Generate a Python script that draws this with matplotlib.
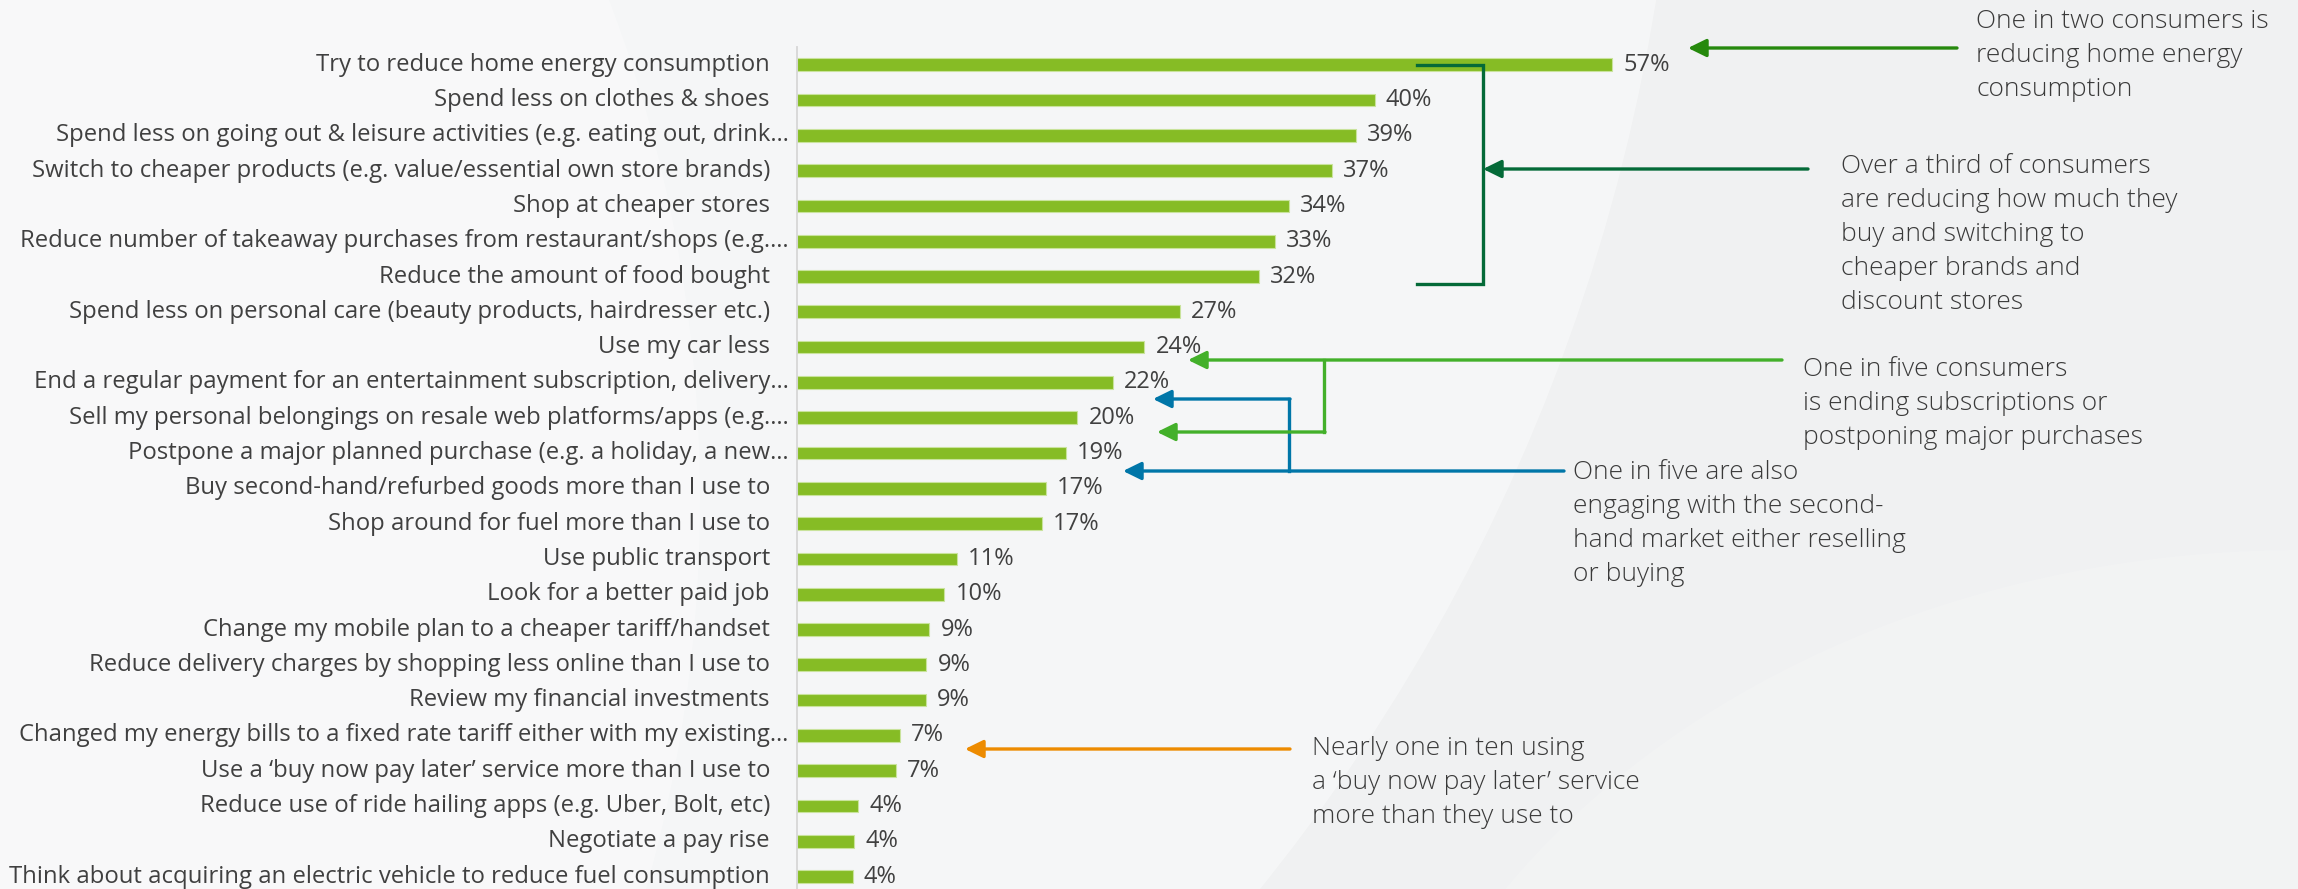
import matplotlib
matplotlib.use("Agg")
import matplotlib.pyplot as plt
from matplotlib.patches import Ellipse

# --- data ---
actions = [
    "Try to reduce home energy consumption",
    "Spend less on clothes & shoes",
    "Spend less on going out & leisure activities (e.g. eating out, drink…",
    "Switch to cheaper products (e.g. value/essential own store brands)",
    "Shop at cheaper stores",
    "Reduce number of takeaway purchases from restaurant/shops (e.g.…",
    "Reduce the amount of food bought",
    "Spend less on personal care (beauty products, hairdresser etc.)",
    "Use my car less",
    "End a regular payment for an entertainment subscription, delivery…",
    "Sell my personal belongings on resale web platforms/apps (e.g.…",
    "Postpone a major planned purchase (e.g. a holiday, a new…",
    "Buy second-hand/refurbed goods more than I use to",
    "Shop around for fuel more than I use to",
    "Use public transport",
    "Look for a better paid job",
    "Change my mobile plan to a cheaper tariff/handset",
    "Reduce delivery charges by shopping less online than I use to",
    "Review my financial investments",
    "Changed my energy bills to a fixed rate tariff either with my existing…",
    "Use a ‘buy now pay later’ service more than I use to",
    "Reduce use of ride hailing apps (e.g. Uber, Bolt, etc)",
    "Negotiate a pay rise",
    "Think about acquiring an electric vehicle to reduce fuel consumption",
]
shares = [57.0, 40.4, 39.1, 37.4, 34.4, 33.4, 32.3, 26.8, 24.3, 22.1, 19.6, 18.8,
          17.4, 17.1, 11.2, 10.3, 9.25, 9.05, 9.0, 7.2, 6.9, 4.3, 4.0, 3.9]

notes = [
    "One in two consumers is\nreducing home energy\nconsumption",
    "Over a third of consumers\nare reducing how much they\nbuy and switching to\ncheaper brands and\ndiscount stores",
    "One in five consumers\nis ending subscriptions or\npostponing major purchases",
    "One in five are also\nengaging with the second-\nhand market either reselling\nor buying",
    "Nearly one in ten using\na ‘buy now pay later’ service\nmore than they use to",
]

BAR = "#86BC25"
TXT = "#404040"
W, H = 2298, 889

plt.rcParams["font.family"] = ["Open Sans", "DejaVu Sans"]

fig = plt.figure(figsize=(W / 100, H / 100), dpi=100)
fig.patch.set_facecolor("#f0f1f2")

# background swooshes
bg = fig.add_axes([0, 0, 1, 1], zorder=0)
bg.set_xlim(0, W)
bg.set_ylim(H, 0)
bg.axis("off")
bg.add_patch(Ellipse((-213, -300), 3786, 3786, color="white", alpha=0.4, lw=0))
bg.add_patch(Ellipse((-300, 500), 2000, 2400, color="white", alpha=0.3, lw=0))
bg.add_patch(Ellipse((2300, 1300), 1900, 1500, color="white", alpha=0.15, lw=0))

# main bar axes, 14.3 px per percentage point
ax = fig.add_axes([797 / W, 0, 1 - 797 / W, 1], zorder=2)
ax.set_facecolor("none")
ax.set_xlim(0, (W - 797) / 14.3)
ax.set_ylim(23.35, -1.833)

ypos = list(range(len(actions)))
ax.barh(ypos, shares, height=0.36, color=BAR, edgecolor="#c9e39c", linewidth=0.8)

for y, v in zip(ypos, shares):
    ax.annotate(f"{v:.0f}%", xy=(v, y), xytext=(8, 0), textcoords="offset points",
                va="center", ha="left", fontsize=17, color=TXT)

for y, lab in zip(ypos, actions):
    pad = -6 if lab.endswith("…") else -19.5
    ax.annotate(lab, xy=(0, y), xycoords=("axes fraction", "data"), xytext=(pad, 0),
                textcoords="offset points", va="center", ha="right",
                fontsize=17.2, color=TXT, annotation_clip=False)

ax.set_xticks([])
ax.set_yticks([])
for s in ["top", "right", "bottom"]:
    ax.spines[s].set_visible(False)
ax.spines["left"].set_color("#d6d6d6")
ax.spines["left"].set_linewidth(1.3)
ax.spines["left"].set_bounds(-0.5, 23.35)

# callouts drawn in pixel space
ov = fig.add_axes([0, 0, 1, 1], zorder=3)
ov.set_xlim(0, W)
ov.set_ylim(H, 0)
ov.axis("off")


def arrow(x0, x1, y, color):
    ov.annotate("", xy=(x1, y), xytext=(x0, y),
                arrowprops=dict(arrowstyle="-|>,head_length=0.55,head_width=0.27",
                                color=color, lw=2.4, shrinkA=0, shrinkB=0,
                                mutation_scale=20))


def note(x, y, s):
    # y = centre of the first line
    ov.text(x, y - 11, s, ha="left", va="top", fontsize=19, color="#3a3a3a",
            linespacing=1.48, fontweight="light")


# 1 - home energy
arrow(1957, 1688, 48, "#26890D")
note(1976, 20, notes[0])

# 2 - bracket
dg = "#046A38"
ov.plot([1417, 1483, 1483, 1417], [64.5, 64.5, 284, 284], color=dg, lw=2.4,
        solid_joinstyle="miter")
arrow(1808, 1483, 169, dg)
note(1841, 165, notes[1])

# 3 - subscriptions / postponing
lg = "#43B02A"
arrow(1782, 1188, 360, lg)
ov.plot([1324, 1324], [360, 432], color=lg, lw=2.4)
arrow(1325, 1157, 432, lg)
note(1803, 368, notes[2])

# 4 - second-hand market
bl = "#0076A8"
arrow(1564, 1123, 471, bl)
ov.plot([1289, 1289], [399, 471], color=bl, lw=2.4)
arrow(1290, 1153, 399, bl)
note(1573, 471, notes[3])

# 5 - buy now pay later
arrow(1290, 965, 749, "#ED8B00")
note(1312, 747, notes[4])

fig.savefig("out.png", dpi=100, facecolor=fig.get_facecolor())
